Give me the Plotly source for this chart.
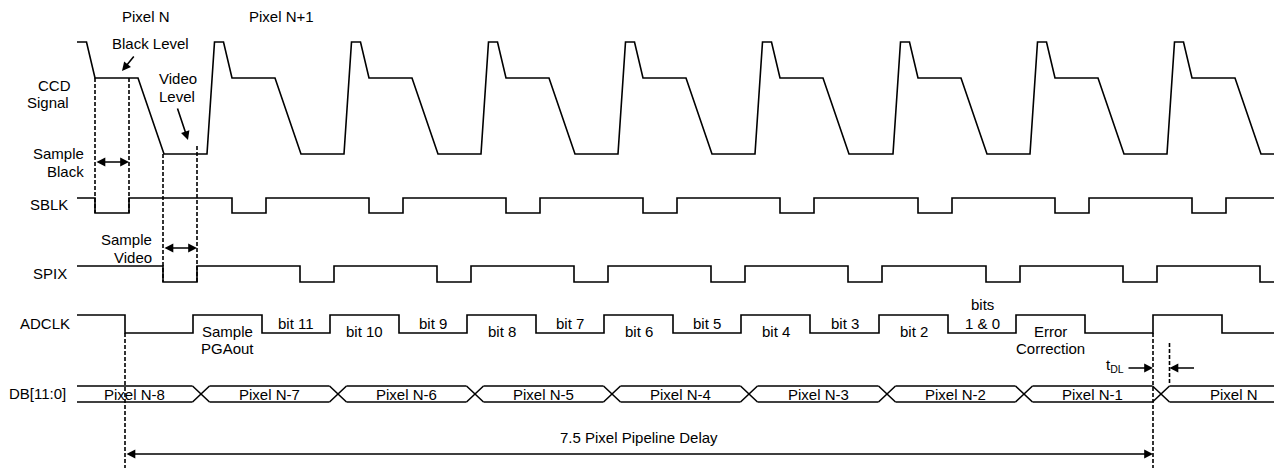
import plotly.graph_objects as go

# ---------------- data (time axis in diagram units, level axis in lane units) ----------------
W, H = 1274, 468
T_START, T_END = 77, 1274

# start of each CCD reset pulse (one per pixel period)
ccd_pulse_start = [70, 207, 344, 481, 618, 755, 893, 1030, 1167]
# CCD waveform template offsets from pulse start: rise top, top end, black reached, black end, video reached
ccd_offsets = [7.5, 16.5, 25, 68, 94]
ccd_levels = {"reset": 42, "black": 78, "video": 154}

sblk_low_window = (25, 59)     # offsets from pulse start
spix_low_window = (93, 127)
sblk_levels = (198, 213)
spix_levels = (266, 282)

adclk_rise_offset = -14
adclk_fall_offset = 55
adclk_levels = (315, 333)

bus_levels = (386, 402)
bus_cross_offset = -6
bus_cross_half = 8.5
bus_labels = ["Pixel N-8", "Pixel N-7", "Pixel N-6", "Pixel N-5", "Pixel N-4",
              "Pixel N-3", "Pixel N-2", "Pixel N-1", "Pixel N"]

bit_labels = [["Sample", "PGAout"], ["bit 11"], ["bit 10"], ["bit 9"], ["bit 8"],
              ["bit 7"], ["bit 6"], ["bit 5"], ["bit 4"], ["bit 3"], ["bit 2"],
              ["bits", "1 & 0"], ["Error", "Correction"]]

signal_names = [("CCD", 54.5, 85), ("Signal", 48, 102), ("SBLK", 48.5, 204),
                ("SPIX", 50, 273), ("ADCLK", 44.5, 323), ("DB[11:0]", 37, 393)]

FONT = "Liberation Sans, Arial, sans-serif"
FS = 15
LW = 1.6
BLACK = "#000000"

fig = go.Figure()


def line(xs, ys, dash=None, width=LW):
    fig.add_trace(go.Scatter(x=xs, y=ys, mode="lines",
                             line=dict(color=BLACK, width=width, dash=dash),
                             hoverinfo="skip", showlegend=False))


def text(s, x, y, xanchor="center", size=FS):
    fig.add_annotation(x=x, y=y, text=s, showarrow=False, xanchor=xanchor,
                       yanchor="middle", font=dict(family=FONT, size=size, color=BLACK))


def arrow(x0, y0, x1, y1, both=False):
    fig.add_annotation(x=x1, y=y1, ax=x0, ay=y0, xref="x", yref="y", axref="x", ayref="y",
                       text="", showarrow=True, arrowhead=2, arrowsize=1.1, arrowwidth=LW,
                       arrowcolor=BLACK, arrowside="end+start" if both else "end",
                       startarrowhead=2, startarrowsize=1.1)


# ---------------- CCD signal ----------------
hi, bl, vi = ccd_levels["reset"], ccd_levels["black"], ccd_levels["video"]
cx, cy = [], []
for r in ccd_pulse_start:
    o = ccd_offsets
    pts = [(r, vi), (r + o[0], hi), (r + o[1], hi), (r + o[2], bl), (r + o[3], bl), (r + o[4], vi)]
    for px, py in pts:
        cx.append(px); cy.append(py)
cx.append(T_END); cy.append(vi)
xs, ys = [T_START], [hi]
for px, py in zip(cx, cy):
    if px > T_START:
        xs.append(px); ys.append(py)
line(xs, ys)


# ---------------- SBLK / SPIX ----------------
def pulse_train(windows, levels):
    h, l = levels
    xs, ys = [T_START], [h]
    for a, b in windows:
        if a > T_END:
            break
        xs += [a, a, min(b, T_END), min(b, T_END)]
        ys += [h, l, l, h if b <= T_END else l]
    xs.append(T_END); ys.append(ys[-1])
    return xs, ys


sw = [(r + sblk_low_window[0], r + sblk_low_window[1]) for r in ccd_pulse_start]
line(*pulse_train(sw, sblk_levels))
pw = [(r + spix_low_window[0], r + spix_low_window[1]) for r in ccd_pulse_start]
line(*pulse_train(pw, spix_levels))

# ---------------- ADCLK ----------------
ah, al = adclk_levels
first_fall = ccd_pulse_start[0] + adclk_fall_offset
ax_, ay_ = [T_START, first_fall, first_fall], [ah, ah, al]
adclk_edges = []
for r in ccd_pulse_start[1:]:
    ru, fd = r + adclk_rise_offset, r + adclk_fall_offset
    ax_ += [ru, ru, fd, fd]
    ay_ += [al, ah, ah, al]
    adclk_edges += [ru, fd]
ax_.append(T_END); ay_.append(al)
line(ax_, ay_)

# bit labels: high pulses (text under the top) alternate with low gaps (text above the line)
for i, lab in enumerate(bit_labels):
    x0, x1 = adclk_edges[i], adclk_edges[i + 1]
    xm = (x0 + x1) / 2
    high = (i % 2 == 0)
    if high:
        for j, s in enumerate(lab):
            text(s, xm, 331 + 17 * j)
    else:
        n = len(lab)
        for j, s in enumerate(lab):
            text(s, xm, 323 - 19 * (n - 1 - j))

# ---------------- DB bus ----------------
bt, bb = bus_levels
cross = [r + bus_cross_offset for r in ccd_pulse_start[1:]]
segs_start = [T_START] + [c + bus_cross_half for c in cross]
segs_end = [c - bus_cross_half for c in cross] + [T_END]
for a, b in zip(segs_start, segs_end):
    line([a, b], [bt, bt])
    line([a, b], [bb, bb])
for c in cross:
    line([c - bus_cross_half, c + bus_cross_half], [bt, bb])
    line([c - bus_cross_half, c + bus_cross_half], [bb, bt])
period = ccd_pulse_start[-1] - ccd_pulse_start[-2]
for k, lab in enumerate(bus_labels):
    a = segs_start[k]
    b = segs_end[k] if k < len(bus_labels) - 1 else cross[-1] + period - bus_cross_half
    text(lab, (a + b) / 2 + (4 if k == len(bus_labels) - 1 else 0), (bt + bb) / 2)

# ---------------- dashed guides ----------------
DASH = "4px,2px"
r0 = ccd_pulse_start[0]
line([r0 + sblk_low_window[0]] * 2, [bl, sblk_levels[1]], dash=DASH)
line([r0 + sblk_low_window[1]] * 2, [bl, sblk_levels[1]], dash=DASH)
line([r0 + spix_low_window[0]] * 2, [vi, spix_levels[1]], dash=DASH)
line([r0 + spix_low_window[1]] * 2, [vi - 8, spix_levels[1]], dash=DASH)
x_first_fall = first_fall
x_last_rise = ccd_pulse_start[-1] + adclk_rise_offset
x_tdl = cross[-1] + bus_cross_half
line([x_first_fall] * 2, [al, H], dash=DASH)
line([x_last_rise] * 2, [al, H], dash=DASH)
line([x_tdl] * 2, [al + 10, bt - 3], dash=DASH)

# ---------------- arrows ----------------
arrow(135, 55, 122, 71)                       # Black Level
arrow(177, 107, 188, 140)                     # Video Level
arrow(r0 + sblk_low_window[0], 162, r0 + sblk_low_window[1], 162, both=True)
arrow(r0 + spix_low_window[0], 248, r0 + spix_low_window[1], 248, both=True)
arrow(x_first_fall, 454, x_last_rise, 454, both=True)
arrow(x_last_rise - 26, 368, x_last_rise, 368)
arrow(x_tdl + 26, 368, x_tdl, 368)

# ---------------- texts ----------------
text("Pixel N", 146, 16)
text("Pixel N+1", 281, 16)
text("Black Level", 150, 43)
text("Video", 178, 78)
text("Level", 177, 96)
text("Sample", 86, 153, xanchor="right")
text("Black", 86, 171, xanchor="right")
text("Sample", 154, 239, xanchor="right")
text("Video", 154, 257, xanchor="right")
for s, x, y in signal_names:
    text(s, x, y)
text("7.5 Pixel Pipeline Delay", (x_first_fall + x_last_rise) / 2, 437)
text("t<sub>DL</sub>", x_last_rise - 27, 365, xanchor="right")

fig.update_layout(
    width=W, height=H, margin=dict(l=0, r=0, t=0, b=0),
    paper_bgcolor="white", plot_bgcolor="white",
    xaxis=dict(range=[0, W], visible=False, fixedrange=True),
    yaxis=dict(range=[H, 0], visible=False, fixedrange=True),
    showlegend=False,
)
fig.write_html("out.html", config={"displayModeBar": False},
               post_script="document.body.style.margin='0';document.body.style.overflow='hidden';")
